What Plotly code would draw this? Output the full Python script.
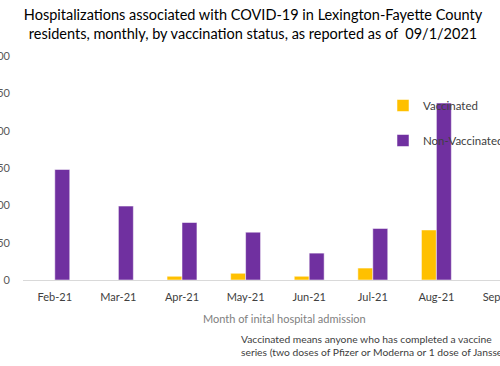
import plotly.graph_objects as go

months = ["Feb-21", "Mar-21", "Apr-21", "May-21", "Jun-21", "Jul-21", "Aug-21", "Sep-21"]
vaccinated = [0, 0, 5, 9, 5, 16, 67, None]
non_vaccinated = [148, 99, 77, 64, 36, 69, 237, None]
y_ticks = [0, 50, 100, 150, 200, 250, 300]

FONT = "Lato"
W, H = 500, 366
ML, MR, MT, MB = 23, 0, 56, 86
PW, PH = W - ML - MR, H - MT - MB

fig = go.Figure()
fig.add_trace(go.Bar(x=months, y=vaccinated, name="Vaccinated",
                     marker=dict(color="#FFC000", line=dict(color="rgba(255,255,255,0.5)", width=1)),
                     legendgroup="a"))
fig.add_trace(go.Bar(x=months, y=non_vaccinated, name="Non-Vaccinated",
                     marker=dict(color="#7030A0", line=dict(color="rgba(255,255,255,0.5)", width=1)),
                     legendgroup="b"))

fig.update_layout(
    width=W, height=H,
    margin=dict(l=ML, r=MR, t=MT, b=MB, autoexpand=False),
    paper_bgcolor="white", plot_bgcolor="white",
    font=dict(family=FONT, color="#595959", size=11),
    barmode="group", bargap=0.53, bargroupgap=0,
    title=dict(text="Hospitalizations associated with COVID-19 in Lexington-Fayette County<br>residents, monthly, by vaccination status, as reported as of  09/1/2021",
               x=253 / W, xanchor="center", y=1 - 20 / H, yanchor="top",
               font=dict(family=FONT, size=14.5, color="#000000")),
    showlegend=True,
    legend=dict(x=(383 - ML) / PW, xanchor="left", y=1 - (91 - MT) / PH, yanchor="top",
                bgcolor="rgba(0,0,0,0)", font=dict(family=FONT, size=11.5, color="#404040"),
                traceorder="grouped", tracegroupgap=16),
    xaxis=dict(type="category", range=[-0.5, 7.0], showgrid=False, showline=True,
               linecolor="#D9D9D9", linewidth=1, ticks="", automargin=False,
               tickfont=dict(family=FONT, size=11, color="#404040"), ticklabelstandoff=7),
    yaxis=dict(range=[0, 300], tickvals=y_ticks, showgrid=False, showline=False, zeroline=False,
               ticks="", automargin=False, ticklabelstandoff=12,
               tickfont=dict(family=FONT, size=11, color="#595959")),
    annotations=[
        dict(text="Month of inital hospital admission", xref="paper", yref="paper",
             x=(284 - ML) / PW, y=-(318 - 280) / PH, xanchor="center", yanchor="middle",
             showarrow=False, font=dict(family=FONT, size=11, color="#808080")),
        dict(text="Vaccinated means anyone who has completed a vaccine<br>series (two doses of Pfizer or Moderna or 1 dose of Janssen).",
             xref="paper", yref="paper", align="left",
             x=(239 - ML) / PW, y=-(331 - 280) / PH, xanchor="left", yanchor="top",
             showarrow=False, font=dict(family=FONT, size=10.3, color="#404040")),
    ],
)

fig.write_html("out.html", config={"displayModeBar": False},
               post_script="document.body.style.margin='0';document.body.style.overflow='hidden';")
